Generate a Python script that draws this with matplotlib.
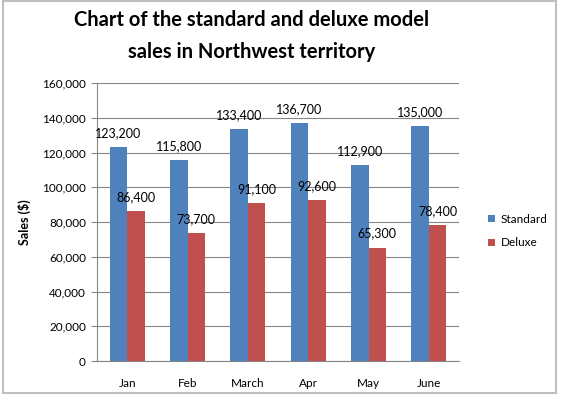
import numpy as np
import matplotlib.pyplot as plt
from matplotlib.patches import Rectangle
from matplotlib.ticker import FuncFormatter

plt.rcParams['font.family'] = ['Lato', 'DejaVu Sans']

# Data
months = ["Jan", "Feb", "March", "Apr", "May", "June"]
standard = [123200, 115800, 133400, 136700, 112900, 135000]
deluxe = [86400, 73700, 91100, 92600, 65300, 78400]

blue = "#4F81BD"
red = "#C0504D"
grey = "#868686"

fig = plt.figure(figsize=(5.83, 3.95), dpi=100)
ax = fig.add_axes([97 / 583, 1 - 361 / 395, 362 / 583, 278 / 395])

x = np.arange(len(months))
w = 0.29
b1 = ax.bar(x - w / 2, standard, w, color=blue, label="Standard", zorder=3)
b2 = ax.bar(x + w / 2, deluxe, w, color=red, label="Deluxe", zorder=3)

for bars in (b1, b2):
    for rect in bars:
        h = rect.get_height()
        ax.annotate(f"{h:,.0f}", (rect.get_x() + rect.get_width() / 2, h),
                    xytext=(0, 10), textcoords="offset points",
                    ha="center", va="center", fontsize=9, zorder=4)

ax.set_xlim(-0.5, len(months) - 0.5)
ax.set_ylim(0, 160000)
ax.set_yticks(range(0, 160001, 20000))
ax.yaxis.set_major_formatter(FuncFormatter(lambda v, p: f"{v:,.0f}"))
ax.set_xticks(x)
ax.set_xticklabels(months)
ax.tick_params(axis="x", length=0, pad=12, labelsize=8.5)
ax.tick_params(axis="y", length=4, color=grey, pad=4, labelsize=8.5)
ax.grid(axis="y", color=grey, lw=0.8, zorder=0)

for s in ("top", "right"):
    ax.spines[s].set_visible(False)
for s in ("left", "bottom"):
    ax.spines[s].set_color(grey)
    ax.spines[s].set_linewidth(0.8)

ax.set_ylabel("Sales ($)", fontsize=9, fontweight="bold", labelpad=8)

fig.text(252 / 583, 1 - 36 / 395,
         "Chart of the standard and deluxe model\nsales in Northwest territory",
         ha="center", va="center", fontsize=14.5, fontweight="bold",
         linespacing=1.7)

ax.legend(loc="center left", bbox_to_anchor=(477 / 583, 1 - 231 / 395),
          bbox_transform=fig.transFigure, frameon=False, fontsize=8.5,
          handlelength=0.6, handleheight=0.6, handletextpad=0.5,
          labelspacing=1.1)

# chart border
fig.patches.append(Rectangle((3 / 583, 2 / 395), 553 / 583, 392 / 395,
                             transform=fig.transFigure, fill=False,
                             edgecolor="#BFBFBF", lw=1.5))

fig.savefig("out.png", dpi=100)
plt.close()
